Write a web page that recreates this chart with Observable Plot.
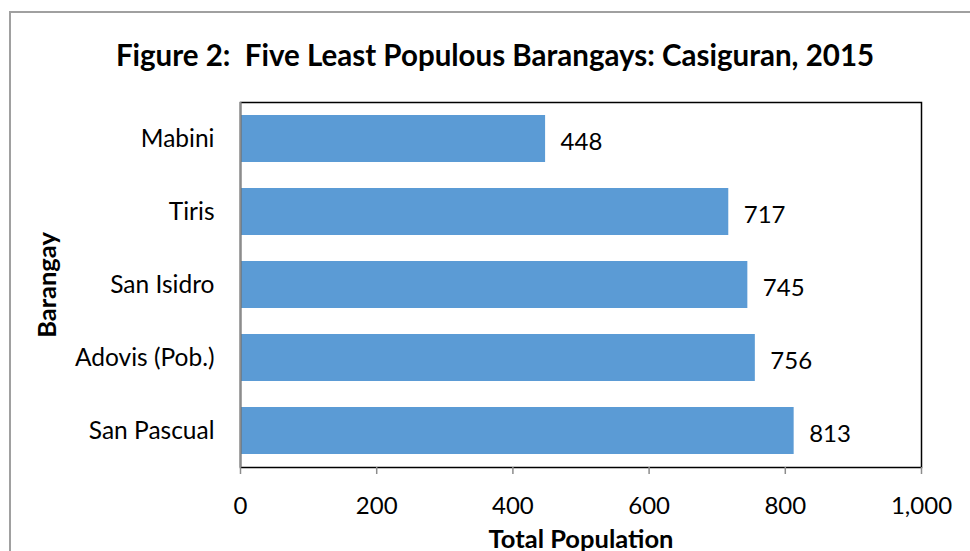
<!DOCTYPE html>
<html><head><meta charset="utf-8">
<script src="https://cdn.jsdelivr.net/npm/d3@7"></script>
<script src="https://cdn.jsdelivr.net/npm/@observablehq/plot@0.6"></script>
<style>
body{margin:0;background:#fff;font-family:Lato,"Open Sans",sans-serif;}
#wrap{position:relative;width:970px;height:551px;overflow:hidden;}
#border{position:absolute;left:9px;top:11px;width:990px;height:600px;border:2px solid #a0a0a0;box-sizing:border-box;}
#title{position:absolute;left:0;width:990px;top:37px;text-align:center;font-weight:bold;font-size:29.5px;line-height:36px;color:#000;white-space:pre;}
#chart{position:absolute;left:0;top:0;}
</style></head>
<body><div id="wrap"><div id="border"></div><div id="title">Figure 2:  Five Least Populous Barangays: Casiguran, 2015</div><div id="chart"></div></div>
<script>
const barangays = ["Mabini","Tiris","San Isidro","Adovis (Pob.)","San Pascual"];
const population = [448,717,745,756,813];
const xTicks = [0,200,400,600,800,1000];
const data = barangays.map((b,i)=>({barangay:b, population:population[i]}));
const fmt = d3.format(",");
const chart = Plot.plot({
  width:970, height:551,
  marginLeft:240, marginRight:49, marginTop:102, marginBottom:84,
  style:{fontFamily:"Lato, 'Open Sans', sans-serif", fontSize:"24px", color:"#000", background:"transparent"},
  x:{domain:[0,1000]},
  y:{domain:barangays, paddingInner:0.35, paddingOuter:0.175},
  marks:[
    Plot.barX(data,{x:"population", y:"barangay", fill:"#5B9BD5"}),
    Plot.text(data,{x:"population", y:"barangay", text:d=>String(d.population), textAnchor:"start", dx:15, dy:3, fontSize:24}),
    Plot.frame({stroke:"#000", strokeWidth:1.5}),
    Plot.ruleX([0],{stroke:"#8c8c8c", strokeWidth:2}),
    Plot.axisX({ticks:xTicks, tickFormat:fmt, tickSize:7, tickPadding:22, stroke:"#8c8c8c", strokeWidth:1.5, fontSize:24, label:null}),
    Plot.axisY({tickSize:0, tickPadding:26, fontSize:24.5, label:null}),
    Plot.text(["Total Population"],{frameAnchor:"bottom", dy:80, lineAnchor:"bottom", fontWeight:"bold", fontSize:25.5}),
    Plot.text(["Barangay"],{frameAnchor:"left", textAnchor:"middle", dx:-193, dy:0, rotate:-90, fontWeight:"bold", fontSize:25.5})
  ]
});
document.getElementById("chart").appendChild(chart);
</script>
</body></html>
